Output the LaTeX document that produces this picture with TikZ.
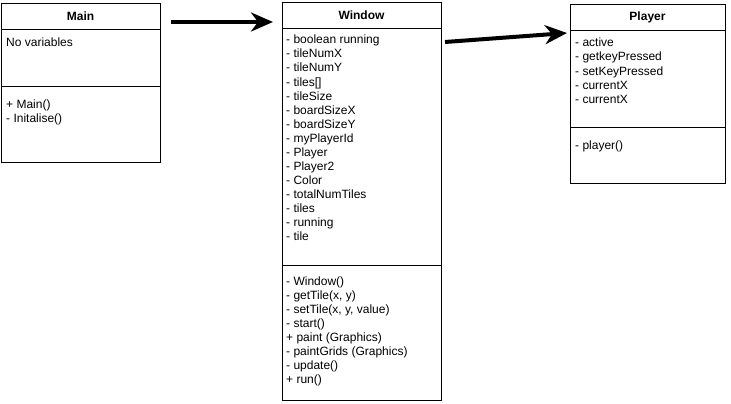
\documentclass[tikz,border=0pt]{standalone}
\usepackage{fontspec}
\setmainfont{Liberation Sans}
\usetikzlibrary{arrows.meta}
\begin{document}
\begin{tikzpicture}[x=1pt,y=-1pt,
  box/.style={draw=black,line width=1pt},
  title/.style={font=\fontsize{12}{14}\selectfont\bfseries,inner sep=0pt,anchor=base},
  item/.style={font=\fontsize{12}{14}\selectfont,inner sep=0pt,anchor=base west},
  assoc/.style={line width=4pt,-{Stealth[length=22pt,width=19pt,inset=7pt]}}]
\useasboundingbox[fill=white] (0,0) rectangle (731,404);

% --- class Main ---
\draw[box] (1.5,3.5) rectangle (160.5,162.5);
\draw[box] (1.5,29.5) -- (160.5,29.5);
\draw[box] (1.5,86.5) -- (160.5,86.5);
\node[title] (mainT) at (80.5,21) {Main};
\node[item] (mainA) at (6,47) {No variables};
\foreach \t [count=\i] in {{+ Main()},{- Initalise()}}
  \node[item] (mainM\i) at (6,{108+14*(\i-1)}) {\t};
\coordinate (mainR) at (171,22);

% --- class Window ---
\draw[box] (282.5,2.5) rectangle (441.5,400.5);
\draw[box] (282.5,28.5) -- (441.5,28.5);
\draw[box] (282.5,265.5) -- (441.5,265.5);
\node[title] (winT) at (361.5,20) {Window};
\foreach \t [count=\i] in {{- boolean running},{- tileNumX},{- tileNumY},{- tiles[]},
  {- tileSize},{- boardSizeX},{- boardSizeY},{- myPlayerId},{- Player},{- Player2},
  {- Color},{- totalNumTiles},{- tiles},{- running},{- tile}}
  \node[item] (winA\i) at (286,{44+14*(\i-1)}) {\t};
\foreach \t [count=\i] in {{- Window()},{- getTile(x, y)},{- setTile(x, y, value)},
  {- start()},{+ paint (Graphics)},{- paintGrids (Graphics)},{- update()},{+ run()}}
  \node[item] (winM\i) at (286,{285+14*(\i-1)}) {\t};
\coordinate (winL) at (273,22);
\coordinate (winR) at (445,42);

% --- class Player ---
\draw[box] (570.5,4.5) rectangle (725.5,183.5);
\draw[box] (570.5,30.5) -- (725.5,30.5);
\draw[box] (570.5,127.5) -- (725.5,127.5);
\node[title] (plT) at (647.5,21) {Player};
\foreach \t [count=\i] in {{- active},{- getkeyPressed},{- setKeyPressed},{- currentX},{- currentX}}
  \node[item] (plA\i) at (575,{47+14*(\i-1)}) {\t};
\node[item] (plM1) at (575,149) {- player()};
\coordinate (plL) at (567,33);

% --- associations ---
\draw[assoc] (mainR) -- (winL);
\draw[assoc] (winR) -- (plL);
\end{tikzpicture}
\end{document}
